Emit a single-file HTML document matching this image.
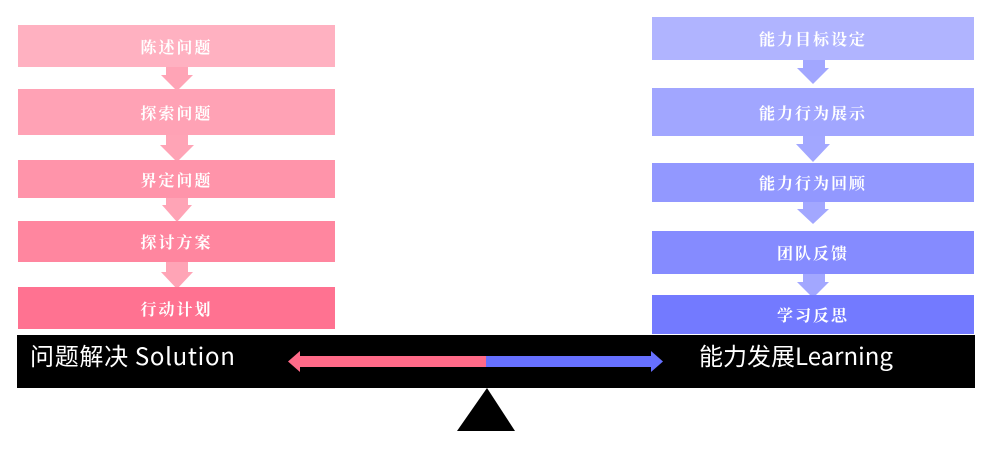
<!DOCTYPE html>
<html><head><meta charset="utf-8"><style>
html,body{margin:0;padding:0;background:#fff;width:995px;height:460px;overflow:hidden;position:relative}
.b{position:absolute;color:#fff;font-family:"Liberation Serif","Noto Serif CJK SC",serif;font-weight:bold;font-size:16px;letter-spacing:2px;display:flex;align-items:center;justify-content:center}
.t{position:absolute;color:#fff;font-family:"Noto Sans CJK SC",sans-serif;font-size:24px;top:338px;line-height:34px;white-space:nowrap}
</style></head><body>
<svg width="995" height="460" style="position:absolute;left:0;top:0">
<g fill="#ffa4b6">
<rect x="166" y="66" width="22" height="10"/><polygon points="161,75 193,75 177,91"/>
<rect x="166" y="134" width="22" height="12"/><polygon points="160,145 194,145 177,162"/>
<rect x="166" y="197" width="22" height="9"/><polygon points="162,205 192,205 177,222"/>
<rect x="166" y="261" width="22" height="12"/><polygon points="161,272 193,272 177,289"/>
</g>
<g fill="#a2a7ff">
<rect x="803" y="59" width="22" height="10"/><polygon points="797,68 829,68 813,84"/>
<rect x="803" y="135" width="22" height="10"/><polygon points="796,144 830,144 813,162"/>
<rect x="803" y="201" width="22" height="9"/><polygon points="797,209 829,209 813,224"/>
<rect x="803" y="273" width="22" height="10"/><polygon points="797,282 829,282 813,298"/>
</g>
<rect x="17" y="335" width="958" height="53" fill="#000"/>
<rect x="299" y="356" width="187" height="11" fill="#ff6a88"/>
<polygon points="288,361.5 300,351 300,372" fill="#ff6a88"/>
<rect x="486" y="356" width="166" height="11" fill="#6670ff"/>
<polygon points="663,361.5 651,351 651,372" fill="#6670ff"/>
<polygon points="487,388 515,431 457,431" fill="#000"/>
</svg>
<div class="b" style="left:18px;top:25px;width:317px;height:42px;background:#ffb1c1">陈述问题</div>
<div class="b" style="left:18px;top:89px;width:317px;height:46px;background:#ffa2b5">探索问题</div>
<div class="b" style="left:18px;top:160px;width:317px;height:38px;background:#ff94aa">界定问题</div>
<div class="b" style="left:18px;top:221px;width:317px;height:41px;background:#ff869f">探讨方案</div>
<div class="b" style="left:18px;top:287px;width:317px;height:42px;background:#ff7291">行动计划</div>
<div class="b" style="left:652px;top:17px;width:322px;height:43px;background:#b0b4ff">能力目标设定</div>
<div class="b" style="left:652px;top:88px;width:322px;height:48px;background:#a1a6ff">能力行为展示</div>
<div class="b" style="left:652px;top:163px;width:322px;height:39px;background:#9298ff">能力行为回顾</div>
<div class="b" style="left:652px;top:231px;width:322px;height:43px;background:#858bff">团队反馈</div>
<div class="b" style="left:652px;top:295px;width:322px;height:39px;background:#737aff">学习反思</div>
<div class="t" style="left:30px;letter-spacing:0.7px">问题解决 Solution</div>
<div class="t" style="left:699px">能力发展Learning</div>
</body></html>
